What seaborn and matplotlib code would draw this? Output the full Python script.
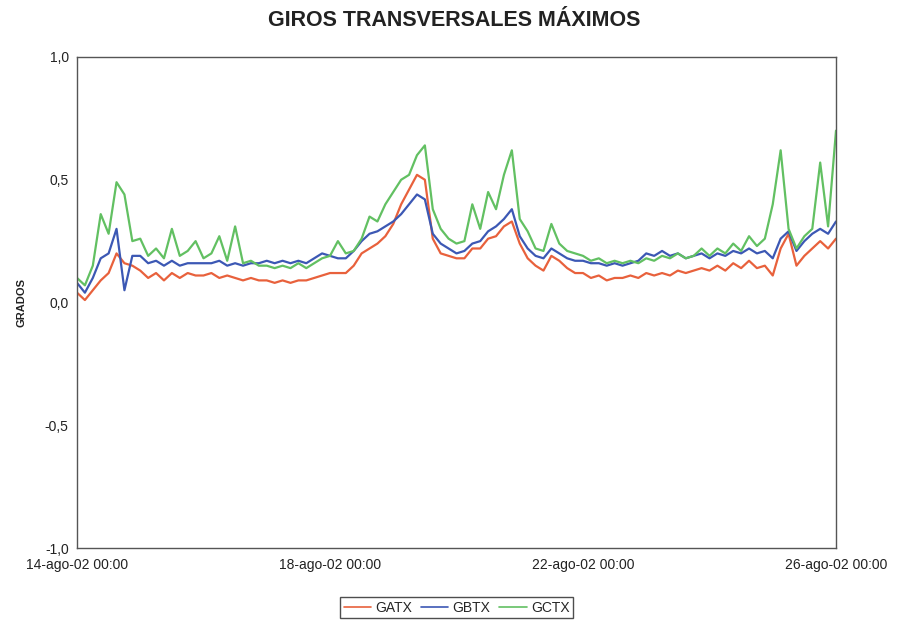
import numpy as np
import pandas as pd
import matplotlib
matplotlib.use("Agg")
import matplotlib.pyplot as plt
import matplotlib.dates as mdates
from matplotlib.ticker import MultipleLocator
import seaborn as sns

# Readings every 3 hours, 14-ago-02 00:00 .. 26-ago-02 00:00
start = "2002-08-14 00:00"
step = "3h"

gatx = [
    0.04, 0.01, 0.05, 0.09, 0.12, 0.20, 0.16, 0.15,
    0.13, 0.10, 0.12, 0.09, 0.12, 0.10, 0.12, 0.11,
    0.11, 0.12, 0.10, 0.11, 0.10, 0.09, 0.10, 0.09,
    0.09, 0.08, 0.09, 0.08, 0.09, 0.09, 0.10, 0.11,
    0.12, 0.12, 0.12, 0.15, 0.20, 0.22, 0.24, 0.27,
    0.32, 0.40, 0.46, 0.52, 0.50, 0.26, 0.20, 0.19,
    0.18, 0.18, 0.22, 0.22, 0.26, 0.27, 0.31, 0.33,
    0.24, 0.18, 0.15, 0.13, 0.19, 0.17, 0.14, 0.12,
    0.12, 0.10, 0.11, 0.09, 0.10, 0.10, 0.11, 0.10,
    0.12, 0.11, 0.12, 0.11, 0.13, 0.12, 0.13, 0.14,
    0.13, 0.15, 0.13, 0.16, 0.14, 0.17, 0.14, 0.15,
    0.11, 0.22, 0.28, 0.15, 0.19, 0.22, 0.25, 0.22, 0.26,
]

gbtx = [
    0.08, 0.04, 0.10, 0.18, 0.20, 0.30, 0.05, 0.19,
    0.19, 0.16, 0.17, 0.15, 0.17, 0.15, 0.16, 0.16,
    0.16, 0.16, 0.17, 0.15, 0.16, 0.15, 0.16, 0.16,
    0.17, 0.16, 0.17, 0.16, 0.17, 0.16, 0.18, 0.20,
    0.19, 0.18, 0.18, 0.21, 0.25, 0.28, 0.29, 0.31,
    0.33, 0.36, 0.40, 0.44, 0.42, 0.28, 0.24, 0.22,
    0.20, 0.21, 0.24, 0.25, 0.29, 0.31, 0.34, 0.38,
    0.27, 0.22, 0.19, 0.18, 0.22, 0.20, 0.18, 0.17,
    0.17, 0.16, 0.16, 0.15, 0.16, 0.15, 0.16, 0.17,
    0.20, 0.19, 0.21, 0.19, 0.20, 0.18, 0.19, 0.20,
    0.18, 0.20, 0.19, 0.21, 0.20, 0.22, 0.20, 0.21,
    0.18, 0.26, 0.29, 0.21, 0.25, 0.28, 0.30, 0.28, 0.33,
]

gctx = [
    0.10, 0.07, 0.15, 0.36, 0.28, 0.49, 0.44, 0.25,
    0.26, 0.19, 0.22, 0.18, 0.30, 0.19, 0.21, 0.25,
    0.18, 0.20, 0.27, 0.17, 0.31, 0.16, 0.17, 0.15,
    0.15, 0.14, 0.15, 0.14, 0.16, 0.14, 0.16, 0.18,
    0.19, 0.25, 0.20, 0.21, 0.26, 0.35, 0.33, 0.40,
    0.45, 0.50, 0.52, 0.60, 0.64, 0.38, 0.30, 0.26,
    0.24, 0.25, 0.40, 0.30, 0.45, 0.38, 0.52, 0.62,
    0.34, 0.29, 0.22, 0.21, 0.32, 0.24, 0.21, 0.20,
    0.19, 0.17, 0.18, 0.16, 0.17, 0.16, 0.17, 0.16,
    0.18, 0.17, 0.19, 0.18, 0.20, 0.18, 0.19, 0.22,
    0.19, 0.22, 0.20, 0.24, 0.21, 0.27, 0.23, 0.26,
    0.40, 0.62, 0.30, 0.22, 0.27, 0.30, 0.57, 0.31, 0.70,
]

series_names = ["GATX", "GBTX", "GCTX"]
series_colors = ["#e8613c", "#3c58b4", "#62c062"]

xtick_dates = ["2002-08-14", "2002-08-18", "2002-08-22", "2002-08-26"]
xtick_labels = ["14-ago-02 00:00", "18-ago-02 00:00", "22-ago-02 00:00", "26-ago-02 00:00"]
ytick_values = [-1.0, -0.5, 0.0, 0.5, 1.0]
ytick_labels = ["-1,0", "-0,5", "0,0", "0,5", "1,0"]

times = pd.date_range(start, periods=len(gatx), freq=step)
df = pd.concat(
    [pd.DataFrame({"fecha": times, "valor": vals, "serie": name})
     for name, vals in zip(series_names, [gatx, gbtx, gctx])],
    ignore_index=True,
)

sns.set_theme(style="white")
plt.rcParams["font.family"] = ["Liberation Sans Narrow", "Liberation Sans", "DejaVu Sans"]

fig = plt.figure(figsize=(8.99, 6.23), dpi=100)
ax = fig.add_axes([77 / 899, 1 - 548 / 623, (836 - 77) / 899, (548 - 57) / 623])

sns.lineplot(
    data=df, x="fecha", y="valor", hue="serie",
    palette=dict(zip(series_names, series_colors)),
    linewidth=1.6, ax=ax, legend=True,
)

ax.set_xlim(pd.Timestamp(xtick_dates[0]), pd.Timestamp(xtick_dates[-1]))
ax.set_ylim(-1.0, 1.0)

ax.set_xticks([pd.Timestamp(d) for d in xtick_dates])
ax.set_xticklabels(xtick_labels, fontsize=10, color="#222222")
ax.xaxis.set_minor_locator(mdates.DayLocator())
ax.set_yticks(ytick_values)
ax.set_yticklabels(ytick_labels, fontsize=10, color="#222222")
ax.yaxis.set_minor_locator(MultipleLocator(0.1))

ax.tick_params(axis="both", which="major", direction="inout", length=6, width=0.8,
               color="#555555", pad=3)
ax.tick_params(axis="both", which="minor", direction="inout", length=3, width=0.6,
               color="#777777")
ax.tick_params(axis="x", which="major", pad=4)

for side in ["left", "bottom", "top", "right"]:
    ax.spines[side].set_visible(True)
    ax.spines[side].set_color("#555555")
    ax.spines[side].set_linewidth(1.0)

ax.set_xlabel("")
ax.set_ylabel("GRADOS", fontsize=8, fontweight="bold", color="#222222", labelpad=13)

fig.suptitle("GIROS TRANSVERSALES MÁXIMOS", x=(77 + 836) / 2 / 899 - 0.003, y=1 - 20 / 623,
             va="center", fontsize=15.5, fontweight="bold", color="#222222")

handles, labels = ax.get_legend_handles_labels()
leg = ax.legend(handles, labels, loc="center", bbox_to_anchor=(0.5, -0.122),
                ncol=3, frameon=True, fancybox=False, fontsize=10,
                handlelength=2.0, handletextpad=0.3, columnspacing=0.6,
                borderpad=0.25, edgecolor="#222222")
leg.get_frame().set_linewidth(1.0)
for line in leg.get_lines():
    line.set_linewidth(1.2)

fig.savefig("out.png", dpi=100, facecolor="white")
